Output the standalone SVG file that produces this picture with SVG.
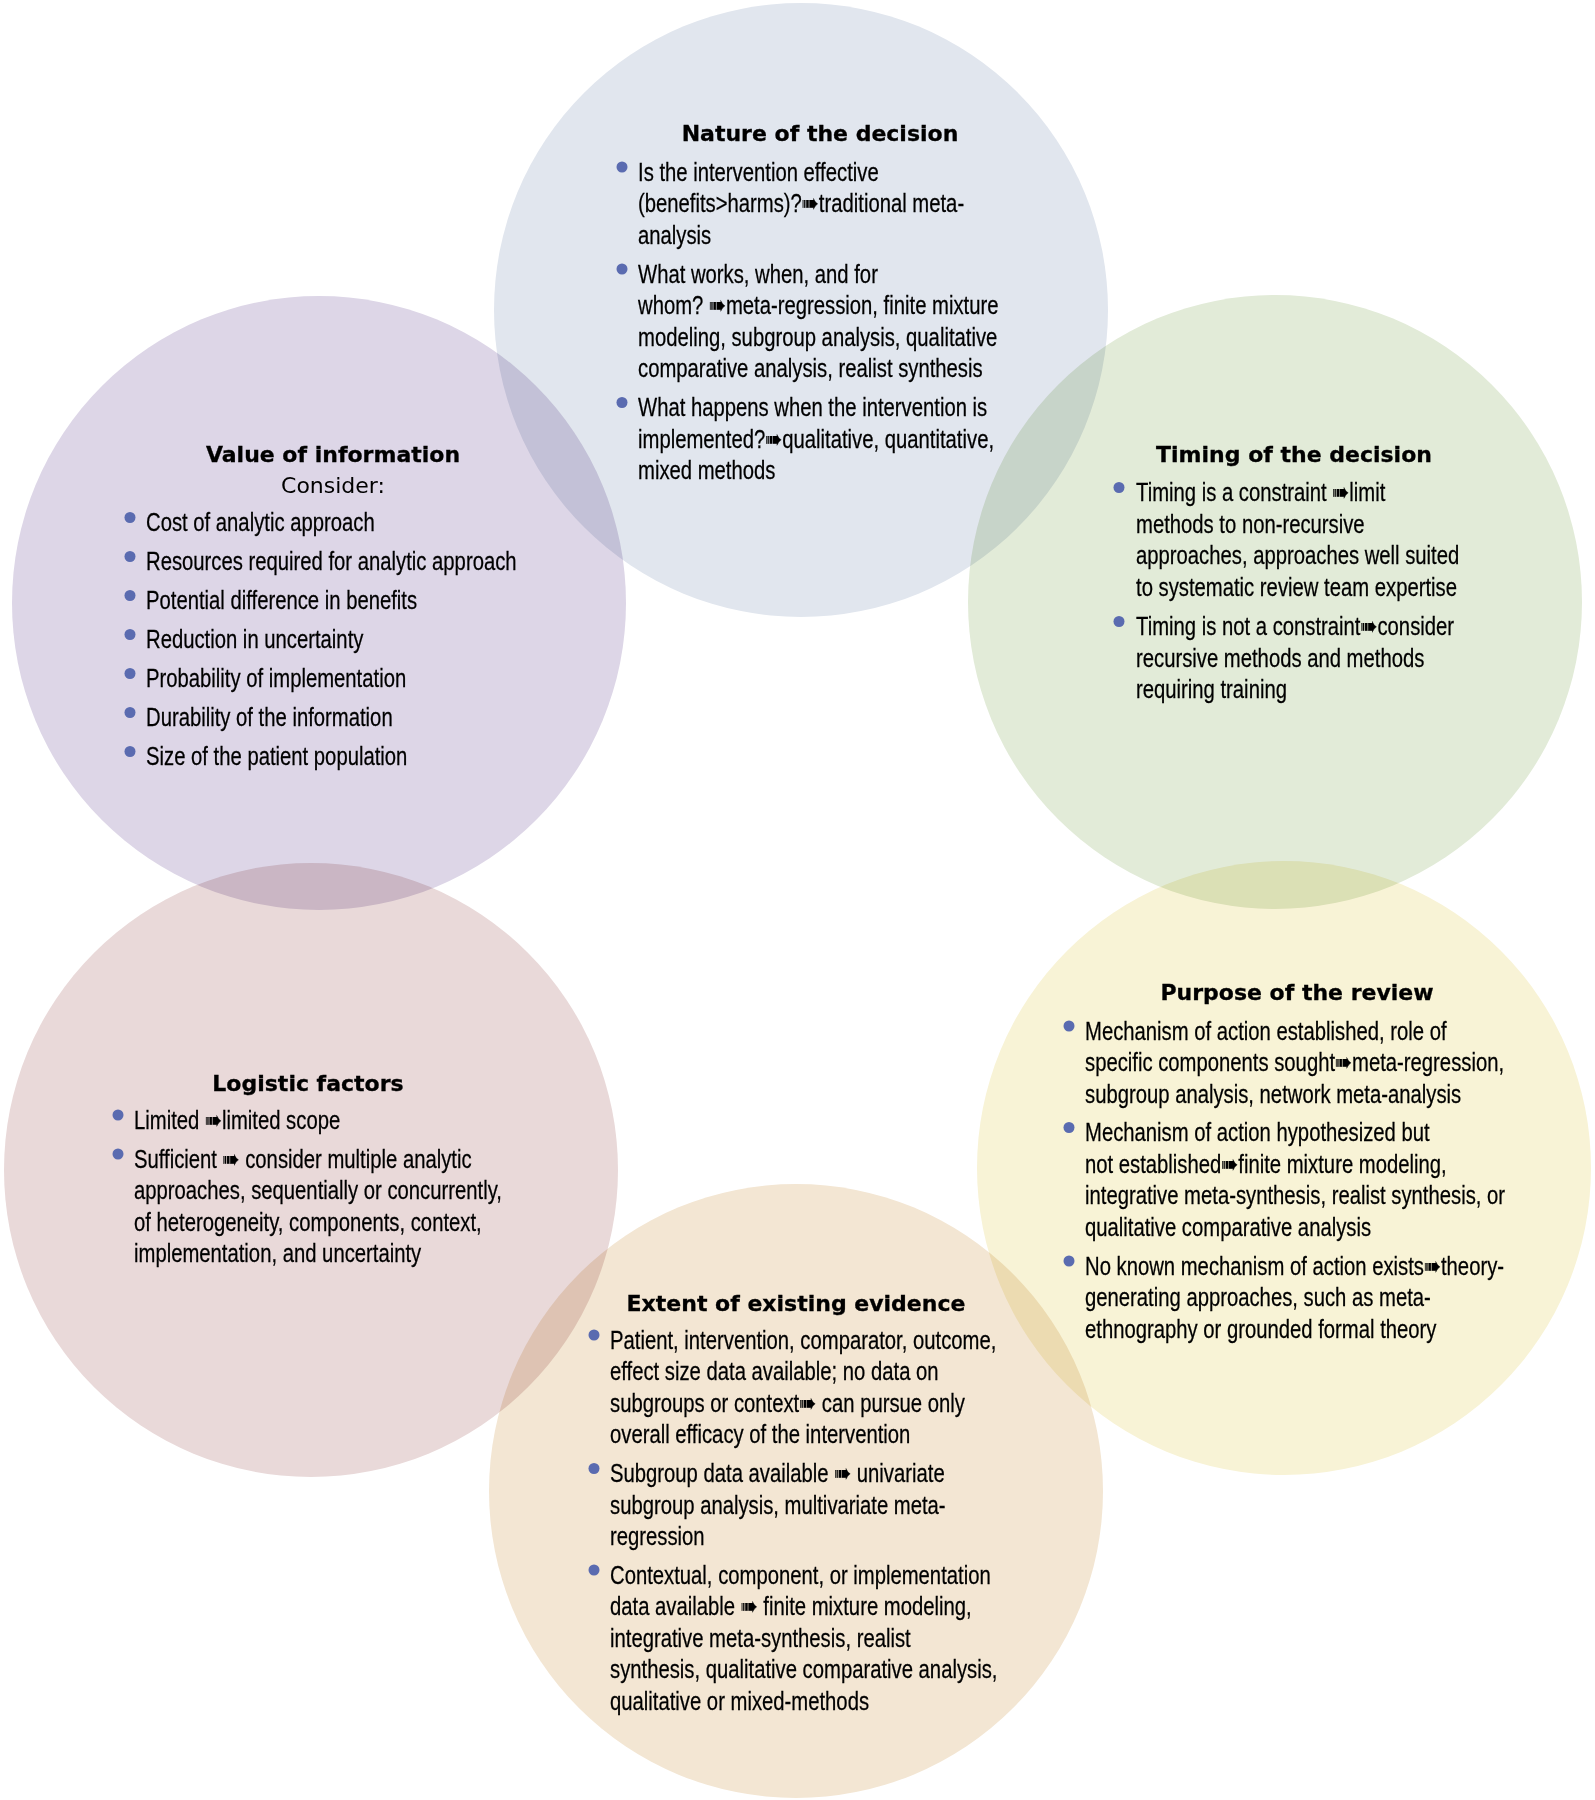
<svg xmlns="http://www.w3.org/2000/svg" width="1595" height="1800" viewBox="0 0 1595 1800">
<style>
.node{mix-blend-mode:multiply}
.hd{font-family:"DejaVu Sans","Liberation Sans",sans-serif;font-weight:bold;font-size:22px;fill:#000;stroke:#000;stroke-width:0.3px;text-anchor:middle}
.sub{font-family:"DejaVu Sans","Liberation Sans",sans-serif;font-size:22px;fill:#000;text-anchor:middle}
.tx{font-family:"Liberation Sans","DejaVu Sans",sans-serif;font-size:26px;fill:#000;stroke:#000;stroke-width:0.25px}
.bl{fill:#5a6bb0}
</style>
<rect width="1595" height="1800" fill="#ffffff"/>

<g id="nature" class="node">
<circle cx="801" cy="310" r="307" fill="#e1e6ee"/>
<text class="hd" x="820" y="141">Nature of the decision</text>
<circle class="bl" cx="622" cy="167" r="5.5"/>
<circle class="bl" cx="622" cy="269" r="5.5"/>
<circle class="bl" cx="622" cy="402.5" r="5.5"/>
<g transform="translate(638 0) scale(0.78 1)">
<text class="tx" x="0" y="181">Is the intervention effective</text>
<text class="tx" x="0" y="212.5">(benefits&gt;harms)?➠traditional meta-</text>
<text class="tx" x="0" y="244">analysis</text>
<text class="tx" x="0" y="283">What works, when, and for</text>
<text class="tx" x="0" y="314.5">whom? ➠meta-regression, finite mixture</text>
<text class="tx" x="0" y="346">modeling, subgroup analysis, qualitative</text>
<text class="tx" x="0" y="377.5">comparative analysis, realist synthesis</text>
<text class="tx" x="0" y="416.5">What happens when the intervention is</text>
<text class="tx" x="0" y="448">implemented?➠qualitative, quantitative,</text>
<text class="tx" x="0" y="479.5">mixed methods</text>
</g>
</g>

<g id="value" class="node">
<circle cx="319" cy="603" r="307" fill="#ddd6e7"/>
<text class="hd" x="333" y="462">Value of information</text>
<text class="sub" x="333" y="493">Consider:</text>
<circle class="bl" cx="130" cy="517.5" r="5.5"/>
<circle class="bl" cx="130" cy="556.5" r="5.5"/>
<circle class="bl" cx="130" cy="595.5" r="5.5"/>
<circle class="bl" cx="130" cy="634.5" r="5.5"/>
<circle class="bl" cx="130" cy="673.5" r="5.5"/>
<circle class="bl" cx="130" cy="712.5" r="5.5"/>
<circle class="bl" cx="130" cy="751.5" r="5.5"/>
<g transform="translate(146 0) scale(0.78 1)">
<text class="tx" x="0" y="531.5">Cost of analytic approach</text>
<text class="tx" x="0" y="570.5">Resources required for analytic approach</text>
<text class="tx" x="0" y="609.5">Potential difference in benefits</text>
<text class="tx" x="0" y="648.5">Reduction in uncertainty</text>
<text class="tx" x="0" y="687.5">Probability of implementation</text>
<text class="tx" x="0" y="726.5">Durability of the information</text>
<text class="tx" x="0" y="765.5">Size of the patient population</text>
</g>
</g>

<g id="timing" class="node">
<circle cx="1275" cy="602" r="307" fill="#e2ebd8"/>
<text class="hd" x="1294" y="462">Timing of the decision</text>
<circle class="bl" cx="1119" cy="487.5" r="5.5"/>
<circle class="bl" cx="1119" cy="621.5" r="5.5"/>
<g transform="translate(1136 0) scale(0.78 1)">
<text class="tx" x="0" y="501.5">Timing is a constraint ➠limit</text>
<text class="tx" x="0" y="533">methods to non-recursive</text>
<text class="tx" x="0" y="564.5">approaches, approaches well suited</text>
<text class="tx" x="0" y="596">to systematic review team expertise</text>
<text class="tx" x="0" y="635.5">Timing is not a constraint➠consider</text>
<text class="tx" x="0" y="667">recursive methods and methods</text>
<text class="tx" x="0" y="698.5">requiring training</text>
</g>
</g>

<g id="logistic" class="node">
<circle cx="311" cy="1170" r="307" fill="#e9d9d9"/>
<text class="hd" x="308" y="1091">Logistic factors</text>
<circle class="bl" cx="118" cy="1115" r="5.5"/>
<circle class="bl" cx="118" cy="1154" r="5.5"/>
<g transform="translate(134 0) scale(0.78 1)">
<text class="tx" x="0" y="1129">Limited ➠limited scope</text>
<text class="tx" x="0" y="1168">Sufficient ➠ consider multiple analytic</text>
<text class="tx" x="0" y="1199.5">approaches, sequentially or concurrently,</text>
<text class="tx" x="0" y="1231">of heterogeneity, components, context,</text>
<text class="tx" x="0" y="1262.5">implementation, and uncertainty</text>
</g>
</g>

<g id="purpose" class="node">
<circle cx="1284" cy="1168" r="307" fill="#f8f3d6"/>
<text class="hd" x="1297" y="1000">Purpose of the review</text>
<circle class="bl" cx="1069" cy="1026" r="5.5"/>
<circle class="bl" cx="1069" cy="1127.5" r="5.5"/>
<circle class="bl" cx="1069" cy="1261" r="5.5"/>
<g transform="translate(1085 0) scale(0.78 1)">
<text class="tx" x="0" y="1040">Mechanism of action established, role of</text>
<text class="tx" x="0" y="1071.5">specific components sought➠meta-regression,</text>
<text class="tx" x="0" y="1103">subgroup analysis, network meta-analysis</text>
<text class="tx" x="0" y="1141.5">Mechanism of action hypothesized but</text>
<text class="tx" x="0" y="1173">not established➠finite mixture modeling,</text>
<text class="tx" x="0" y="1204.5">integrative meta-synthesis, realist synthesis, or</text>
<text class="tx" x="0" y="1236">qualitative comparative analysis</text>
<text class="tx" x="0" y="1275">No known mechanism of action exists➠theory-</text>
<text class="tx" x="0" y="1306.5">generating approaches, such as meta-</text>
<text class="tx" x="0" y="1338">ethnography or grounded formal theory</text>
</g>
</g>

<g id="extent" class="node">
<circle cx="796" cy="1491" r="307" fill="#f3e6d3"/>
<text class="hd" x="796" y="1311">Extent of existing evidence</text>
<circle class="bl" cx="594" cy="1335" r="5.5"/>
<circle class="bl" cx="594" cy="1468.5" r="5.5"/>
<circle class="bl" cx="594" cy="1570" r="5.5"/>
<g transform="translate(610 0) scale(0.78 1)">
<text class="tx" x="0" y="1349">Patient, intervention, comparator, outcome,</text>
<text class="tx" x="0" y="1380.5">effect size data available; no data on</text>
<text class="tx" x="0" y="1412">subgroups or context➠ can pursue only</text>
<text class="tx" x="0" y="1443.5">overall efficacy of the intervention</text>
<text class="tx" x="0" y="1482.5">Subgroup data available ➠ univariate</text>
<text class="tx" x="0" y="1514">subgroup analysis, multivariate meta-</text>
<text class="tx" x="0" y="1545.5">regression</text>
<text class="tx" x="0" y="1584">Contextual, component, or implementation</text>
<text class="tx" x="0" y="1615.5">data available ➠ finite mixture modeling,</text>
<text class="tx" x="0" y="1647">integrative meta-synthesis, realist</text>
<text class="tx" x="0" y="1678.5">synthesis, qualitative comparative analysis,</text>
<text class="tx" x="0" y="1710">qualitative or mixed-methods</text>
</g>
</g>
</svg>
